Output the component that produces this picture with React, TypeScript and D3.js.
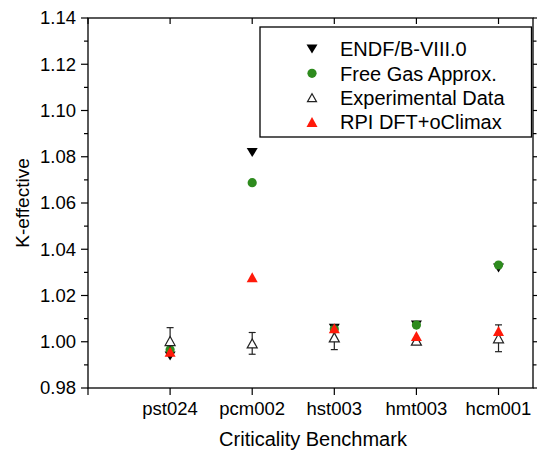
import React from "react";
import * as d3 from "d3";

const categories = ["pst024", "pcm002", "hst003", "hmt003", "hcm001"];
const endfValues = [0.9938, 1.0818, 1.0058, 1.0072, 1.0319];
const freeGasValues = [0.9965, 1.0688, 1.0055, 1.0072, 1.0332];
const experimentalValues = [1.0003, 0.9993, 1.0019, 1.0005, 1.0015];
const experimentalErrors = [0.0058, 0.0047, 0.0053, 0.001, 0.0058];
const rpiValues = [0.9957, 1.0279, 1.0058, 1.0025, 1.0046];
const yTicks = [0.98, 1.0, 1.02, 1.04, 1.06, 1.08, 1.1, 1.12, 1.14];
const legendLabels = ["ENDF/B-VIII.0", "Free Gas Approx.", "Experimental Data", "RPI DFT+oClimax"];

const W = 537;
const H = 452;
const L = 88, R = 533, T = 18, B = 388;
const FONT = "'Liberation Sans', Arial, sans-serif";

const x = d3.scaleLinear().domain([0, 5.42]).range([L, R]);
const y = d3.scaleLinear().domain([0.98, 1.14]).range([B, T]);

function triUp(cx: number, cy: number, w = 11, h = 10) {
  return `M${cx - w / 2},${cy + h / 2}L${cx + w / 2},${cy + h / 2}L${cx},${cy - h / 2}Z`;
}
function triDown(cx: number, cy: number, w = 11, h = 9) {
  return `M${cx - w / 2},${cy - h / 2}L${cx + w / 2},${cy - h / 2}L${cx},${cy + h / 2}Z`;
}

export default function App() {
  const minorTicks = d3.range(0.99, 1.14, 0.02);
  const pos = (i: number) => x(i + 1);
  return (
    <svg width={W} height={H} style={{ position: "absolute", left: 0, top: 0, background: "#fff" }}>
      <rect x={0} y={0} width={W} height={H} fill="#fff" />
      {/* frame */}
      <rect x={L} y={T} width={R - L} height={B - T} fill="none" stroke="#000" strokeWidth={1.3} />
      {/* left ticks */}
      {yTicks.map((t) => (
        <g key={"yl" + t}>
          <line x1={L - 7} x2={L} y1={y(t)} y2={y(t)} stroke="#000" strokeWidth={1.2} />
          <line x1={R} x2={R + 6} y1={y(t)} y2={y(t)} stroke="#000" strokeWidth={1.2} />
          <text x={76} y={y(t)} dy="0.35em" textAnchor="end" fontFamily={FONT} fontSize={18.5} fill="#000">
            {t.toFixed(2)}
          </text>
        </g>
      ))}
      {minorTicks.map((t) => (
        <g key={"ym" + t}>
          <line x1={L - 4} x2={L} y1={y(t)} y2={y(t)} stroke="#000" strokeWidth={1.2} />
          <line x1={R} x2={R + 3.5} y1={y(t)} y2={y(t)} stroke="#000" strokeWidth={1.2} />
        </g>
      ))}
      {/* x ticks */}
      {[0, 1, 2, 3, 4, 5].map((i) => (
        <g key={"xt" + i}>
          <line x1={x(i)} x2={x(i)} y1={B} y2={B + 7} stroke="#000" strokeWidth={1.2} />
          <line x1={x(i)} x2={x(i)} y1={T} y2={T + 6} stroke="#000" strokeWidth={1.2} />
        </g>
      ))}
      {categories.map((c, i) => (
        <text key={c} x={pos(i)} y={415} textAnchor="middle" fontFamily={FONT} fontSize={18.5} fill="#000">
          {c}
        </text>
      ))}
      <text x={313} y={446} textAnchor="middle" fontFamily={FONT} fontSize={20} fill="#000">
        Criticality Benchmark
      </text>
      <text
        transform={`translate(29,${(T + B) / 2}) rotate(-90)`}
        textAnchor="middle"
        fontFamily={FONT}
        fontSize={19}
        fill="#000"
      >
        K-effective
      </text>
      {/* data */}
      {endfValues.map((v, i) => (
        <path key={"e" + i} d={triDown(pos(i), y(v))} fill="#000" />
      ))}
      {freeGasValues.map((v, i) => (
        <circle key={"f" + i} cx={pos(i)} cy={y(v)} r={4.6} fill="#2e8b1e" />
      ))}
      {experimentalValues.map((v, i) => {
        const cx = pos(i);
        const e = experimentalErrors[i];
        return (
          <g key={"x" + i} stroke="#222" strokeWidth={1.2}>
            <line x1={cx} x2={cx} y1={y(v + e)} y2={y(v - e)} />
            <line x1={cx - 3.5} x2={cx + 3.5} y1={y(v + e)} y2={y(v + e)} />
            <line x1={cx - 3.5} x2={cx + 3.5} y1={y(v - e)} y2={y(v - e)} />
            <path d={triUp(cx, y(v), 10, 9)} fill="#fff" />
          </g>
        );
      })}
      {rpiValues.map((v, i) => (
        <path key={"r" + i} d={triUp(pos(i), y(v))} fill="#ff1a0a" />
      ))}
      {/* legend */}
      <rect x={260} y={27} width={271.5} height={110} fill="#fff" stroke="#000" strokeWidth={1.3} />
      {legendLabels.map((lab, i) => {
        const ly = 49 + i * 24.3;
        return (
          <g key={lab}>
            {i === 0 && <path d={triDown(312, ly)} fill="#000" />}
            {i === 1 && <circle cx={312} cy={ly} r={4.6} fill="#2e8b1e" />}
            {i === 2 && <path d={triUp(312, ly, 9, 8)} fill="#fff" stroke="#222" strokeWidth={1.2} />}
            {i === 3 && <path d={triUp(312, ly)} fill="#ff1a0a" />}
            <text x={340} y={ly} dy="0.36em" fontFamily={FONT} fontSize={20} fill="#000">
              {lab}
            </text>
          </g>
        );
      })}
    </svg>
  );
}
